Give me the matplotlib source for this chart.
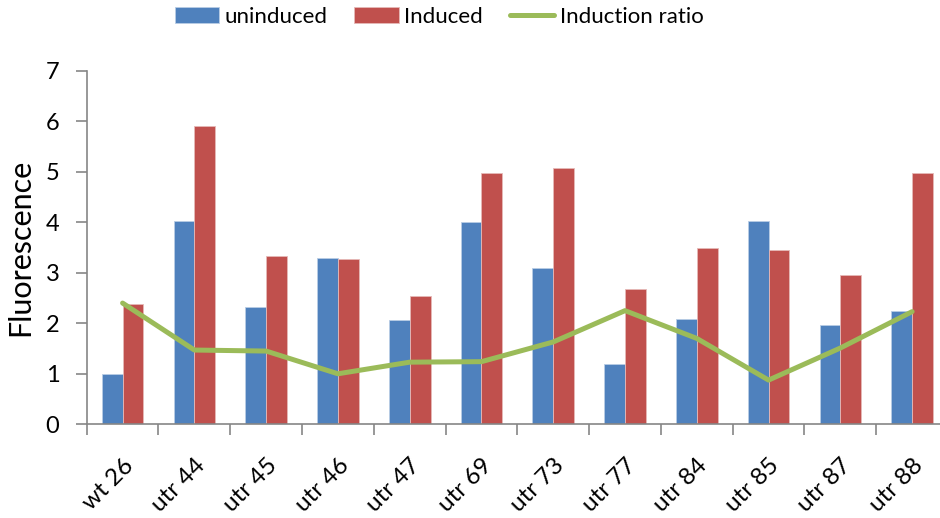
import matplotlib
matplotlib.use("Agg")
from matplotlib import pyplot as plt
import numpy as np

strains = ["wt 26", "utr 44", "utr 45", "utr 46", "utr 47", "utr 69",
           "utr 73", "utr 77", "utr 84", "utr 85", "utr 87", "utr 88"]
uninduced = [1.00, 4.03, 2.32, 3.29, 2.07, 4.00, 3.10, 1.19, 2.09, 4.02, 1.96, 2.25]
induced = [2.39, 5.91, 3.34, 3.28, 2.54, 4.98, 5.08, 2.68, 3.50, 3.46, 2.96, 4.97]
ratio = [2.40, 1.47, 1.45, 1.00, 1.23, 1.24, 1.63, 2.25, 1.70, 0.875, 1.51, 2.23]

BLUE = "#4F81BD"
RED = "#C0504D"
GREEN = "#9BBB59"
AXIS = "#868686"

plt.rcParams["font.family"] = ["Lato", "DejaVu Sans"]

fig = plt.figure(figsize=(9.4, 5.18), dpi=100)
W, H = 940, 518
ax = fig.add_axes([86.7 / W, 93.7 / H, (948 - 86.7) / W, 353.6 / H])

x = np.arange(len(strains))
bw = 0.29
b1 = ax.bar(x - bw / 2, uninduced, bw, color=BLUE, edgecolor="#B9CDE5", linewidth=0.6,
            label="uninduced", zorder=2)
b2 = ax.bar(x + bw / 2, induced, bw, color=RED, edgecolor="#E6B9B8", linewidth=0.6,
            label="Induced", zorder=2)
ln, = ax.plot(x, ratio, color=GREEN, linewidth=3.6, solid_joinstyle="round",
              solid_capstyle="round", label="Induction ratio", zorder=3)

ax.set_xlim(-0.5, len(strains) - 0.5)
ax.set_ylim(0, 7)
ax.set_yticks(range(8))
ax.tick_params(axis="y", direction="out", length=7.7, width=1.2, color=AXIS,
               labelsize=17, pad=12)

# tick marks on the category borders, labels on the centres
ax.set_xticks(np.arange(-0.5, len(strains)), minor=False)
ax.set_xticklabels([])
ax.set_xticks(x, minor=True)
ax.set_xticklabels(strains, minor=True, rotation=45, ha="right",
                   rotation_mode="anchor", fontsize=17.5)
ax.tick_params(axis="x", which="major", direction="out", length=7.7, width=1.2,
               color=AXIS)
ax.tick_params(axis="x", which="minor", length=0, pad=22)

for side in ["top", "right"]:
    ax.spines[side].set_visible(False)
for side in ["left", "bottom"]:
    ax.spines[side].set_color(AXIS)
    ax.spines[side].set_linewidth(1.2)

ax.set_ylabel("Fluorescence", fontsize=22, labelpad=8)

fig.legend([b1, b2, ln], ["uninduced", "Induced", "Induction ratio"],
           loc="center", bbox_to_anchor=(439 / W, 1 - 17 / H), ncol=3, frameon=False,
           fontsize=16, handlelength=2.0, handleheight=0.7, handletextpad=0.25,
           columnspacing=1.2)

fig.savefig("out.png", dpi=100)
